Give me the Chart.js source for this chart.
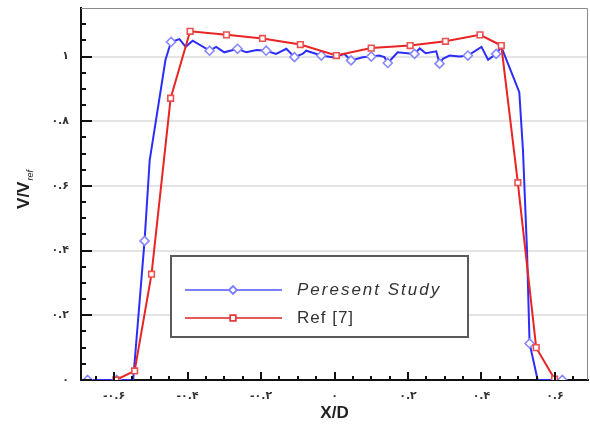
<!DOCTYPE html>
<html><head><meta charset="utf-8">
<script src="https://cdn.jsdelivr.net/npm/chart.js@4.4.0/dist/chart.umd.min.js"></script>
<style>html,body{margin:0;padding:0;background:#fff;}canvas{display:block}</style>
</head><body>
<canvas id="c" width="590" height="426"></canvas>
<script>
const presentX = [-0.672,-0.593,-0.548,-0.517,-0.503,-0.46,-0.445,-0.422,-0.405,-0.386,-0.34,-0.322,-0.30,-0.264,-0.24,-0.212,-0.186,-0.159,-0.131,-0.109,-0.087,-0.077,-0.036,-0.005,0.027,0.045,0.077,0.10,0.122,0.136,0.145,0.172,0.218,0.232,0.248,0.277,0.286,0.295,0.313,0.34,0.363,0.40,0.418,0.44,0.454,0.503,0.513,0.524,0.531,0.553,0.62];
const presentY = [0,0,0,0.43,0.68,0.99,1.045,1.054,1.03,1.049,1.018,1.03,1.013,1.024,1.013,1.02,1.018,1.008,1.024,0.998,1.008,1.018,1.003,0.998,1.008,0.988,0.998,1.0,1.003,0.998,0.98,1.013,1.008,1.025,1.01,1.016,0.978,0.993,1.003,1.0,1.003,1.03,0.99,1.008,1.03,0.89,0.71,0.40,0.113,0,0];
const presentMarked = [1,1,0,1,0,0,1,0,0,0,1,0,0,1,0,0,1,0,0,1,0,0,1,0,0,1,0,1,0,0,1,0,1,0,0,0,1,0,0,0,1,0,0,1,0,0,0,0,1,0,1];
const refX = [-0.595,-0.544,-0.498,-0.446,-0.393,-0.294,-0.196,-0.093,0.005,0.10,0.206,0.302,0.396,0.454,0.499,0.549,0.599];
const refY = [0,0.028,0.327,0.871,1.078,1.067,1.056,1.037,1.003,1.026,1.034,1.047,1.067,1.034,0.61,0.10,0.003];
const xTickValues = [-0.6,-0.4,-0.2,0,0.2,0.4,0.6];
const xTickLabels = ['-۰.۶','-۰.۴','-۰.۲','۰','۰.۲','۰.۴','۰.۶'];
const yTickValues = [0,0.2,0.4,0.6,0.8,1];
const yTickLabels = ['۰','۰.۲','۰.۴','۰.۶','۰.۸','۱'];
const seriesNames = ['Peresent Study','Ref [7]'];

const BLUE_LINE = 'rgb(45,45,250)';
const BLUE_MARK = 'rgb(135,135,255)';
const RED_LINE = 'rgb(232,36,36)';
const RED_MARK = 'rgb(236,80,80)';

const framePlugin = {
  id: 'frame',
  afterDraw(chart) {
    const ctx = chart.ctx, a = chart.chartArea;
    const xs = chart.scales.x, ys = chart.scales.y;
    ctx.save();
    ctx.strokeStyle = '#8a8a8a'; ctx.lineWidth = 1;
    ctx.beginPath();
    ctx.moveTo(a.left, a.top + 0.5); ctx.lineTo(a.right - 0.5, a.top + 0.5); ctx.lineTo(a.right - 0.5, a.bottom);
    ctx.stroke();
    ctx.strokeStyle = '#111'; ctx.lineWidth = 2;
    ctx.beginPath();
    for (let i = 0; i <= 22; i++) {
      const v = i * 0.05;
      const y = Math.round(ys.getPixelForValue(v));
      const major = (i % 4 === 0);
      ctx.moveTo(a.left, y); ctx.lineTo(a.left + (major ? 11 : 5), y);
    }
    for (let i = -13; i <= 13; i++) {
      const v = i * 0.05;
      const x = Math.round(xs.getPixelForValue(v));
      const major = (i % 4 === 0);
      ctx.moveTo(x, a.bottom); ctx.lineTo(x, a.bottom - (major ? 8 : 4));
    }
    ctx.stroke();
    ctx.translate(23, 190);
    ctx.rotate(-Math.PI / 2);
    ctx.fillStyle = '#222';
    ctx.textBaseline = 'alphabetic';
    ctx.textAlign = 'left';
    ctx.font = 'bold 17px "Liberation Sans", Arial, sans-serif';
    const main = 'V/V';
    const w = ctx.measureText(main).width;
    ctx.font = 'italic 9px "Liberation Sans", Arial, sans-serif';
    const ws = ctx.measureText('ref').width;
    const start = -(w + ws) / 2;
    ctx.font = 'bold 17px "Liberation Sans", Arial, sans-serif';
    ctx.fillText(main, start, 6);
    ctx.font = 'italic 9px "Liberation Sans", Arial, sans-serif';
    ctx.fillText('ref', start + w + 1, 10);
    ctx.restore();

    ctx.save();
    const bx = 171, by = 256, bw = 297, bh = 81;
    ctx.fillStyle = '#fff';
    ctx.fillRect(bx, by, bw, bh);
    ctx.strokeStyle = '#5a5a5a'; ctx.lineWidth = 2;
    ctx.strokeRect(bx, by, bw, bh);
    const rows = [
      {y: 290, color: 'rgb(125,125,255)', mark: 'rgb(125,125,255)', style: 'rectRot', text: seriesNames[0], font: 'italic 17px "Liberation Sans", Arial, sans-serif', ls: '2px'},
      {y: 318, color: 'rgb(228,90,90)', mark: 'rgb(225,60,60)', style: 'rect', text: seriesNames[1], font: '17px "Liberation Sans", Arial, sans-serif', ls: '1px'}
    ];
    rows.forEach(r => {
      ctx.strokeStyle = r.color; ctx.lineWidth = 2;
      ctx.beginPath(); ctx.moveTo(185, r.y); ctx.lineTo(282, r.y); ctx.stroke();
      ctx.fillStyle = '#fff';
      ctx.strokeStyle = r.mark; ctx.lineWidth = 1.8;
      Chart.helpers.drawPoint(ctx, {pointStyle: r.style, radius: 4, rotation: 0, borderWidth: 1.8}, 233, r.y);
      ctx.fillStyle = '#333';
      ctx.font = r.font;
      ctx.letterSpacing = r.ls;
      ctx.textBaseline = 'alphabetic';
      ctx.textAlign = 'left';
      ctx.fillText(r.text, 297, r.y + 5);
      ctx.letterSpacing = '0px';
    });
    ctx.restore();
  }
};

new Chart(document.getElementById('c'), {
  type: 'line',
  data: {
    datasets: [
      {
        label: seriesNames[1],
        data: refX.map((x, i) => ({x, y: refY[i]})),
        borderColor: RED_LINE, borderWidth: 2,
        pointStyle: 'rect', pointRadius: 4, pointBorderColor: RED_MARK,
        pointBackgroundColor: '#fff', pointBorderWidth: 1.6,
        tension: 0, order: 0
      },
      {
        label: seriesNames[0],
        data: presentX.map((x, i) => ({x, y: presentY[i]})),
        borderColor: BLUE_LINE, borderWidth: 2,
        pointStyle: 'rectRot',
        pointRadius: presentMarked.map(m => m ? 4.5 : 0),
        pointBorderColor: BLUE_MARK, pointBackgroundColor: '#fff', pointBorderWidth: 1.6,
        tension: 0, order: 1
      }
    ]
  },
  options: {
    responsive: false, animation: false, devicePixelRatio: 1,
    layout: {autoPadding: false, padding: {left: 0, top: 8, right: 2, bottom: 0}},
    plugins: {legend: {display: false}, tooltip: {enabled: false}},
    scales: {
      x: {
        type: 'linear', min: -0.69, max: 0.69,
        afterBuildTicks: s => { s.ticks = xTickValues.map(v => ({value: v})); },
        afterFit: s => { s.height = 46; s.paddingLeft = 0; s.paddingRight = 0; },
        ticks: {
          callback: (v) => xTickLabels[xTickValues.indexOf(v)],
          font: {family: '"DejaVu Sans"', size: 11, weight: 'bold'}, color: '#333',
          padding: 10, maxRotation: 0, autoSkip: false
        },
        grid: {display: false, drawTicks: false},
        border: {display: true, color: '#111', width: 2},
        title: {display: true, text: 'X/D', font: {family: '"Liberation Sans", Arial', size: 17, weight: 'bold'}, color: '#222', padding: {top: 2, bottom: 2}}
      },
      y: {
        type: 'linear', min: 0, max: 1.15,
        afterBuildTicks: s => { s.ticks = yTickValues.map(v => ({value: v})); },
        afterFit: s => { s.width = 81; s.paddingTop = 0; s.paddingBottom = 0; },
        ticks: {
          callback: (v) => yTickLabels[yTickValues.indexOf(v)],
          font: {family: '"DejaVu Sans"', size: 11, weight: 'bold'}, color: '#333',
          padding: 12
        },
        grid: {display: true, drawTicks: false, color: c => (c.tick && c.tick.value === 0) ? 'rgba(0,0,0,0)' : '#e4e4e4', lineWidth: 2},
        border: {display: true, color: '#111', width: 2}
      }
    }
  },
  plugins: [framePlugin]
});
</script>
</body></html>
